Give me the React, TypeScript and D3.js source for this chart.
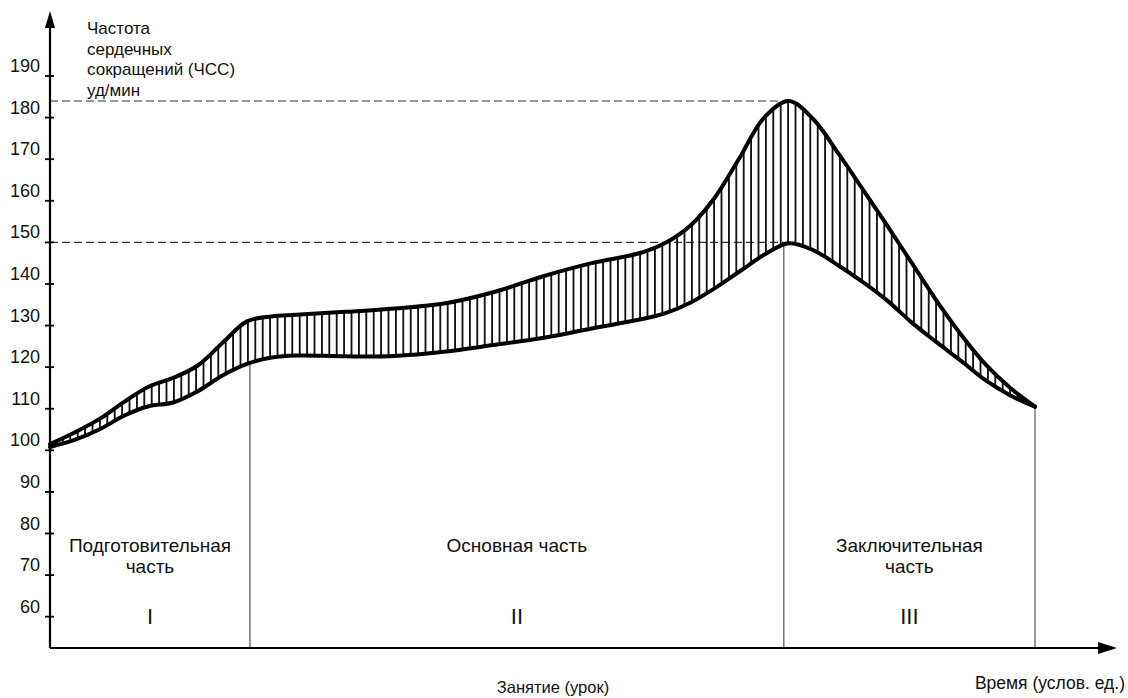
import React from "react";
import * as d3 from "d3";

// ---- data ----
const timeUnits = [0, 0.5, 1, 1.5, 2, 2.5, 3, 3.5, 4, 4.5, 5, 6, 7, 8, 9, 10, 11, 12, 12.5, 13, 13.5, 14, 14.5, 15, 15.5, 16, 16.5, 17, 17.5, 18, 18.5, 19, 19.5, 20];
const upperHR = [101.5, 104.3, 107.5, 111.6, 115.3, 117.4, 120.4, 125.8, 131.0, 132.2, 132.6, 133.3, 134.1, 135.3, 138.0, 141.8, 145.0, 147.5, 149.9, 154.0, 160.8, 170.3, 180.0, 184.0, 179.6, 171.5, 162.8, 154.0, 145.0, 136.0, 127.8, 120.6, 115.0, 110.5];
const lowerHR = [100.8, 102.5, 105.0, 108.3, 110.6, 111.5, 114.2, 118.0, 120.8, 122.3, 122.8, 122.6, 122.7, 123.7, 125.3, 127.0, 129.3, 131.5, 133.0, 135.5, 139.0, 143.0, 147.0, 149.8, 148.1, 144.5, 140.5, 136.0, 130.7, 126.0, 121.5, 116.8, 113.2, 110.5];
const yTicks = [60, 70, 80, 90, 100, 110, 120, 130, 140, 150, 160, 170, 180, 190];
const phaseBounds = [0, 4.06, 14.9, 20];
const phaseNames = [["Подготовительная", "часть"], ["Основная часть"], ["Заключительная", "часть"]];
const phaseNumerals = ["I", "II", "III"];
const dashedLevels = [184, 150];
const dashedUntil = 15;
const yTitle = ["Частота", "сердечных", "сокращений (ЧСС)", "уд/мин"];
const xTitle = "Время (услов. ед.)";
const lessonTitle = "Занятие (урок)";

const W = 1128;
const H = 698;
const FONT = "'Liberation Sans', Arial, Helvetica, sans-serif";

export default function App() {
  const x = d3.scaleLinear().domain([0, 20]).range([50, 1035]);
  const y = d3.scaleLinear().domain([60, 190]).range([616.7, 76]);
  const axisY = 648;
  const axisX = 50;

  const pts = timeUnits.map((t, i) => ({ t, u: upperHR[i], l: lowerHR[i] }));
  const curve = d3.curveCatmullRom.alpha(0.5);
  const area = d3.area<any>().x((d) => x(d.t)).y0((d) => y(d.l)).y1((d) => y(d.u)).curve(curve);
  const upperLine = d3.line<any>().x((d) => x(d.t)).y((d) => y(d.u)).curve(curve);
  const lowerLine = d3.line<any>().x((d) => x(d.t)).y((d) => y(d.l)).curve(curve);

  const interpLower = (t: number) => {
    const i = Math.max(1, Math.min(timeUnits.length - 1, d3.bisectLeft(timeUnits, t)));
    const t0 = timeUnits[i - 1], t1 = timeUnits[i];
    const k = (t - t0) / (t1 - t0);
    return lowerHR[i - 1] + (lowerHR[i] - lowerHR[i - 1]) * k;
  };

  return (
    <svg width={W} height={H} style={{ position: "absolute", left: 0, top: 0, background: "#fff" }} fontFamily={FONT}>
      <defs>
        <pattern id="hatch" patternUnits="userSpaceOnUse" width={7.4} height={20} x={0} y={0}>
          <line x1={3.7} x2={3.7} y1={0} y2={20} stroke="#111" strokeWidth={1.9} />
        </pattern>
      </defs>
      <rect width={W} height={H} fill="#fff" />

      {/* dashed guide lines */}
      {dashedLevels.map((v, i) => (
        <line key={"d" + i} x1={axisX} x2={x(dashedUntil)} y1={y(v)} y2={y(v)} stroke="#333" strokeWidth={1.1} strokeDasharray="8,4" />
      ))}

      {/* phase boundary verticals */}
      {phaseBounds.slice(1).map((t, i) => (
        <line key={"v" + i} x1={x(t)} x2={x(t)} y1={y(interpLower(t))} y2={axisY} stroke="#444" strokeWidth={1.1} />
      ))}

      {/* band */}
      <path d={area(pts) || ""} fill="url(#hatch)" />
      <path d={upperLine(pts) || ""} fill="none" stroke="#000" strokeWidth={4} strokeLinejoin="round" strokeLinecap="round" />
      <path d={lowerLine(pts) || ""} fill="none" stroke="#000" strokeWidth={4} strokeLinejoin="round" strokeLinecap="round" />

      {/* y axis */}
      <line x1={axisX} x2={axisX} y1={axisY} y2={20} stroke="#000" strokeWidth={2.2} />
      <path d={`M${axisX},11 L${axisX - 5},28 L${axisX + 5},28 Z`} fill="#000" />
      {yTicks.map((v) => (
        <g key={"t" + v}>
          <line x1={axisX - 5} x2={axisX + 4} y1={y(v)} y2={y(v)} stroke="#000" strokeWidth={1.8} />
          <text x={40} y={y(v) - 4} textAnchor="end" fontSize={18} fill="#111">{v}</text>
        </g>
      ))}

      {/* x axis */}
      <line x1={axisX} x2={1100} y1={axisY} y2={axisY} stroke="#000" strokeWidth={2.2} />
      <path d={`M1117,${axisY} L1098,${axisY - 6} L1098,${axisY + 6} Z`} fill="#000" />

      {/* y title */}
      {yTitle.map((s, i) => (
        <text key={"yt" + i} x={87} y={34 + i * 20.5} fontSize={17} fill="#111">{s}</text>
      ))}

      {/* phase labels */}
      {phaseNames.map((lines, i) => {
        const cx = (x(phaseBounds[i]) + x(phaseBounds[i + 1])) / 2;
        return (
          <g key={"p" + i}>
            {lines.map((s, j) => (
              <text key={j} x={cx} y={552 + j * 21} textAnchor="middle" fontSize={19} fill="#111">{s}</text>
            ))}
            <text x={cx} y={624} textAnchor="middle" fontSize={22} fill="#111">{phaseNumerals[i]}</text>
          </g>
        );
      })}

      <text x={553} y={693} textAnchor="middle" fontSize={16.5} fill="#111">{lessonTitle}</text>
      <text x={1125} y={689} textAnchor="end" fontSize={17.5} fill="#111">{xTitle}</text>
    </svg>
  );
}
